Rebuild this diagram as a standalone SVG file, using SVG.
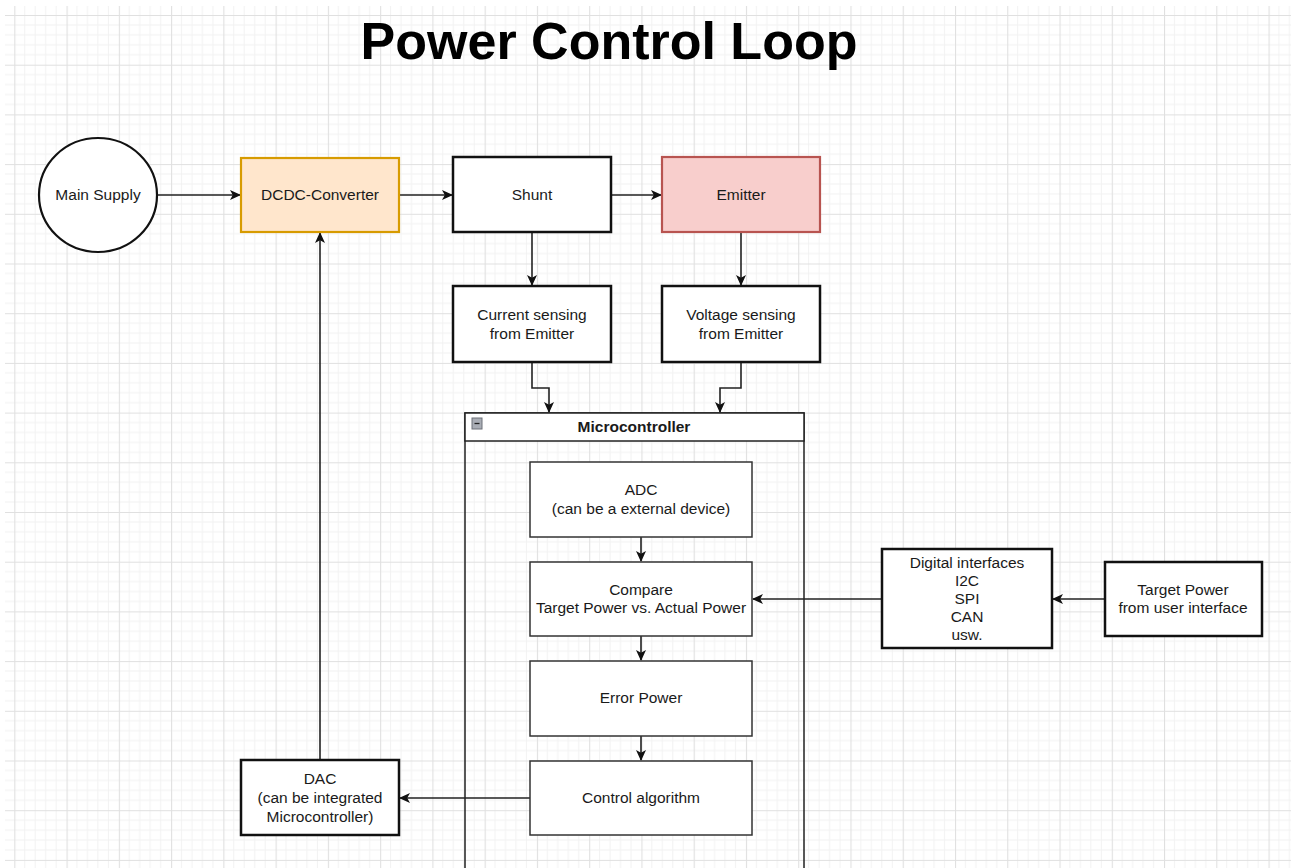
<svg xmlns="http://www.w3.org/2000/svg" width="1298" height="868" viewBox="0 0 1298 868">
<style>
.t{font-family:"Liberation Sans",Arial,sans-serif;font-size:15.5px;fill:#1a1a1a;text-anchor:middle}
.b{font-weight:bold}
.n{fill:#fff;stroke:#111;stroke-width:2.5}
.i{fill:#fff;stroke:#333;stroke-width:1.5}
.c{fill:none;stroke:#222;stroke-width:1.6;marker-end:url(#ah)}
</style>
<defs>
<pattern id="grid" patternUnits="userSpaceOnUse" x="14.3" y="15" width="52.26" height="49.7">
<path d="M10.45,0V49.7M20.9,0V49.7M31.35,0V49.7M41.8,0V49.7M0,9.94H52.26M0,19.88H52.26M0,29.82H52.26M0,39.76H52.26" stroke="#f2f2f2" stroke-width="1" fill="none"/>
<path d="M0.5,0V49.7M0,0.5H52.26" stroke="#e0e0e0" stroke-width="1.2" fill="none"/>
</pattern>
<marker id="ah" viewBox="0 0 11 10" refX="10" refY="5" markerWidth="11" markerHeight="10" markerUnits="userSpaceOnUse" orient="auto">
<path d="M0,0 L11,5 L0,10 L2.8,5 Z" fill="#111"/>
</marker>
</defs>
<rect width="1298" height="868" fill="#fff"/>
<rect x="5" y="6" width="1286" height="862" fill="url(#grid)"/>
<text x="609" y="59" class="t b" style="font-size:52px;fill:#000">Power Control Loop</text>

<g id="connectors">
<path class="c" d="M158,195H240"/>
<path class="c" d="M399,195H452"/>
<path class="c" d="M611,195H661"/>
<path class="c" d="M532,232V285"/>
<path class="c" d="M741,232V285"/>
<path class="c" d="M532,362V388H549V412"/>
<path class="c" d="M741,362V388H720V412"/>
<path class="c" d="M641,537V561"/>
<path class="c" d="M641,636V660"/>
<path class="c" d="M641,736V760"/>
<path class="c" d="M882,599H753"/>
<path class="c" d="M1105,599H1053"/>
<path class="c" d="M530,798H400"/>
<path class="c" d="M320,760V233"/>
</g>

<g id="main-supply">
<ellipse cx="98" cy="195" rx="59" ry="57" fill="#fff" stroke="#111" stroke-width="2.2"/>
<text x="98" y="200" class="t">Main Supply</text>
</g>
<g id="dcdc">
<rect x="241" y="158" width="158" height="74" fill="#ffe6cc" stroke="#d79b00" stroke-width="2.2"/>
<text x="320" y="200" class="t">DCDC-Converter</text>
</g>
<g id="shunt">
<rect x="453" y="157" width="158" height="75" class="n"/>
<text x="532" y="200" class="t">Shunt</text>
</g>
<g id="emitter">
<rect x="662" y="157" width="158" height="75" fill="#f8cecc" stroke="#b85450" stroke-width="2.2"/>
<text x="741" y="200" class="t">Emitter</text>
</g>
<g id="current-sensing">
<rect x="453" y="286" width="158" height="76" class="n"/>
<text x="532" y="320" class="t">Current sensing</text>
<text x="532" y="339" class="t">from Emitter</text>
</g>
<g id="voltage-sensing">
<rect x="662" y="286" width="158" height="76" class="n"/>
<text x="741" y="320" class="t">Voltage sensing</text>
<text x="741" y="339" class="t">from Emitter</text>
</g>
<g id="microcontroller">
<rect x="465" y="413" width="339" height="480" fill="none" stroke="#222" stroke-width="1.5"/>
<rect x="465" y="413" width="339" height="28" fill="#fff" stroke="#222" stroke-width="1.5"/>
<rect x="472" y="418" width="10" height="11" fill="#a9adb5" stroke="#6d7078" stroke-width="1"/>
<path d="M474.5,423.5H479.5" stroke="#222" stroke-width="1.3"/>
<text x="634" y="432" class="t b">Microcontroller</text>
</g>
<g id="adc">
<rect x="530" y="462" width="222" height="75" class="i"/>
<text x="641" y="495" class="t">ADC</text>
<text x="641" y="514" class="t">(can be a external device)</text>
</g>
<g id="compare">
<rect x="530" y="562" width="222" height="74" class="i"/>
<text x="641" y="595" class="t">Compare</text>
<text x="641" y="613" class="t">Target Power vs. Actual Power</text>
</g>
<g id="error-power">
<rect x="530" y="661" width="222" height="75" class="i"/>
<text x="641" y="703" class="t">Error Power</text>
</g>
<g id="control-algorithm">
<rect x="530" y="761" width="222" height="74" class="i"/>
<text x="641" y="803" class="t">Control algorithm</text>
</g>
<g id="digital-interfaces">
<rect x="882" y="549" width="170" height="99" class="n"/>
<text x="967" y="568" class="t">Digital interfaces</text>
<text x="967" y="586" class="t">I2C</text>
<text x="967" y="604" class="t">SPI</text>
<text x="967" y="622" class="t">CAN</text>
<text x="967" y="640" class="t">usw.</text>
</g>
<g id="target-power">
<rect x="1105" y="562" width="157" height="74" class="n"/>
<text x="1183" y="595" class="t">Target Power</text>
<text x="1183" y="613" class="t">from user interface</text>
</g>
<g id="dac">
<rect x="241" y="760" width="158" height="75" class="n"/>
<text x="320" y="784" class="t">DAC</text>
<text x="320" y="803" class="t">(can be integrated</text>
<text x="320" y="822" class="t">Microcontroller)</text>
</g>
</svg>
